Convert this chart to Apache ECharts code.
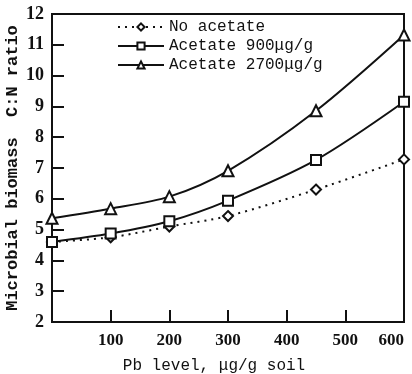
<!DOCTYPE html>
<html>
<head>
<meta charset="utf-8">
<script src="https://cdn.jsdelivr.net/npm/echarts@6/dist/echarts.min.js"></script>
<style>
  html, body { margin: 0; padding: 0; background: #fff; }
  #chart { width: 412px; height: 374px; }
</style>
</head>
<body>
<div id="chart"></div>
<script>
// Pb levels (x) and C:N ratios
const pbLevels = [0, 100, 200, 300, 450, 600];
const noAcetate = [4.6, 4.75, 5.1, 5.44, 6.3, 7.28];
const acetate900 = [4.6, 4.87, 5.27, 5.94, 7.26, 9.15];
const acetate2700 = [5.37, 5.68, 6.07, 6.91, 8.86, 11.32];
const seriesNames = ['No acetate', 'Acetate 900\u03bcg/g', 'Acetate 2700\u03bcg/g'];

const chart = echarts.init(document.getElementById('chart'));

const pairs = (vals) => pbLevels.map((x, i) => [x, vals[i]]);
const ink = '#111';

const option = {
  animation: false,
  backgroundColor: '#fff',
  grid: {
    left: 52, right: 8, top: 14, bottom: 52,
    outerBoundsMode: 'none',
    containLabel: false,
    show: true, borderColor: ink, borderWidth: 2, backgroundColor: 'transparent'
  },
  legend: {
    orient: 'vertical',
    left: 117,
    top: 19,
    padding: 0,
    itemWidth: 46,
    itemHeight: 9,
    itemGap: 3,
    textStyle: { fontFamily: 'Liberation Mono', fontSize: 16, color: ink },
    data: seriesNames
  },
  xAxis: {
    type: 'value',
    min: 0, max: 600, interval: 100,
    name: 'Pb level, \u03bcg/g soil',
    nameLocation: 'middle',
    nameGap: 36,
    nameTextStyle: { fontFamily: 'Liberation Mono', fontSize: 16, color: ink, padding: [0, 28, 0, 0] },
    axisLine: { lineStyle: { color: ink, width: 2 } },
    axisTick: { inside: true, length: 12, lineStyle: { color: ink, width: 2 } },
    axisLabel: {
      margin: 10,
      alignMaxLabel: 'right',
      fontFamily: 'Liberation Serif', fontWeight: 'bold', fontSize: 17, color: ink,
      formatter: (v) => (v === 0 ? '' : String(v))
    },
    splitLine: { show: false }
  },
  yAxis: {
    type: 'value',
    min: 2, max: 12, interval: 1,
    name: 'Microbial biomass  C:N ratio',
    nameLocation: 'middle',
    nameGap: 31,
    nameMoveOverlap: false,
    nameTextStyle: { fontFamily: 'Liberation Mono', fontWeight: 'bold', fontSize: 17, color: ink },
    axisLine: { lineStyle: { color: ink, width: 2 } },
    axisTick: { inside: true, length: 12, lineStyle: { color: ink, width: 2 } },
    axisLabel: { margin: 8, fontFamily: 'Liberation Serif', fontWeight: 'bold', fontSize: 18, color: ink },
    splitLine: { show: false }
  },
  series: [
    {
      name: seriesNames[0],
      type: 'line',
      smooth: 0.3,
      data: pairs(noAcetate),
      symbol: 'emptyDiamond',
      symbolSize: 10,
      lineStyle: { color: ink, width: 2, type: [2, 5] },
      itemStyle: { color: ink, borderWidth: 2 }
    },
    {
      name: seriesNames[1],
      type: 'line',
      smooth: 0.3,
      data: pairs(acetate900),
      symbol: 'emptyRect',
      symbolSize: 10,
      lineStyle: { color: ink, width: 2 },
      itemStyle: { color: ink, borderWidth: 2 }
    },
    {
      name: seriesNames[2],
      type: 'line',
      smooth: 0.3,
      data: pairs(acetate2700),
      symbol: 'emptyTriangle',
      symbolSize: 11,
      lineStyle: { color: ink, width: 2 },
      itemStyle: { color: ink, borderWidth: 2 }
    }
  ]
};

chart.setOption(option);
</script>
</body>
</html>
